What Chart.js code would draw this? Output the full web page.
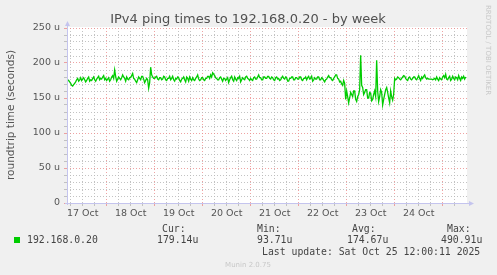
<!DOCTYPE html>
<html>
<head>
<meta charset="utf-8">
<script src="https://cdn.jsdelivr.net/npm/chart.js@4/dist/chart.umd.min.js"></script>
<style>
  html, body { margin: 0; padding: 0; background: #f0f0f0; }
  canvas { display: block; }
</style>
</head>
<body>
<canvas id="chartPing" width="497" height="275"></canvas>
<script>
// x values are hours counted from 17 Oct 00:00, one sample every 30 min
const xMin = 4.17;
const xMax = 204.17;
const firstHour = 4.5;
const stepHours = 0.5;
const dayLabels = ["17 Oct", "18 Oct", "19 Oct", "20 Oct", "21 Oct", "22 Oct", "23 Oct", "24 Oct"];

// ping averages (microseconds), one array per day
const pingOct17 = [176, 175, 173, 171, 168, 167, 169, 171, 173, 176, 178, 174, 176, 179, 175, 177, 179, 176, 173, 175,
  178, 180, 174, 176, 175, 178, 180, 176, 174, 177, 179, 181, 176, 178, 177, 180, 182, 176, 178];
const pingOct18 = [175, 177, 179, 174, 176, 180, 182, 178, 190, 181, 174, 177, 180, 178, 176, 179, 183, 180, 178, 174,
  180, 177, 176, 179, 179, 182, 185, 178, 177, 174, 172, 176, 180, 178, 176, 181, 181, 177, 172, 175,
  178, 176, 164, 172, 194, 183, 180, 178];
const pingOct19 = [178, 180, 181, 177, 176, 179, 179, 176, 177, 181, 180, 176, 175, 178, 178, 181, 176, 178, 181, 176,
  174, 178, 177, 180, 179, 175, 173, 177, 178, 180, 176, 173, 180, 178, 174, 180, 177, 175, 179, 176,
  175, 178, 180, 183, 177, 175, 176, 179];
const pingOct20 = [179, 176, 175, 178, 178, 181, 181, 178, 183, 180, 186, 184, 182, 179, 178, 176, 176, 179, 180, 177,
  174, 178, 178, 175, 177, 179, 172, 176, 179, 181, 176, 174, 180, 177, 175, 179, 178, 181, 173, 176,
  179, 177, 176, 180, 181, 178, 177, 175];
const pingOct21 = [178, 176, 175, 179, 180, 177, 177, 180, 183, 179, 179, 176, 176, 180, 180, 178, 178, 181, 181, 178,
  177, 180, 179, 176, 175, 179, 180, 177, 178, 175, 176, 179, 181, 178, 177, 180, 179, 174, 174, 178,
  178, 180, 180, 176, 176, 179, 179, 177];
const pingOct22 = [177, 180, 180, 176, 175, 178, 178, 180, 176, 179, 181, 177, 178, 181, 174, 176, 179, 177, 177, 180,
  180, 176, 176, 179, 178, 175, 173, 176, 177, 180, 182, 179, 179, 176, 175, 178, 180, 183, 183, 178,
  177, 173, 174, 170, 168, 175, 171, 148];
const pingOct23 = [160, 152, 143, 150, 158, 155, 152, 160, 160, 148, 145, 152, 155, 162, 211, 168, 165, 155, 158, 162,
  162, 150, 150, 158, 157, 146, 148, 155, 160, 152, 204, 160, 145, 152, 162, 158, 140, 148, 155, 162,
  165, 158, 150, 143, 160, 152, 147, 155];
const pingOct24 = [178, 176, 177, 180, 179, 177, 176, 178, 180, 182, 181, 178, 176, 175, 179, 180, 177, 176, 178, 180,
  180, 177, 176, 179, 182, 178, 175, 180, 178, 181, 183, 179, 177, 178, 177, 177, 177, 177, 176, 177,
  178, 176, 180, 177, 175, 179, 177, 176];
const pingOct25 = [180, 182, 179, 184, 177, 176, 179, 181, 175, 177, 181, 178, 176, 180, 179, 176, 182, 178, 175, 180,
  178, 181, 177, 180];

const legendName = "192.168.0.20";
const legendCur = "179.14u";
const legendMin = "93.71u";
const legendAvg = "174.67u";
const legendMax = "490.91u";
const lastUpdate = "Last update: Sat Oct 25 12:00:11 2025";

const pingValues = [].concat(pingOct17, pingOct18, pingOct19, pingOct20,
  pingOct21, pingOct22, pingOct23, pingOct24, pingOct25);
const pingPoints = pingValues.map((v, i) => ({ x: firstHour + i * stepHours, y: v }));

const lineColor = "#00cc00";
const majorGrid = "rgba(235, 140, 140, 0.8)";
const minorGrid = "rgba(185, 185, 185, 0.85)";
const axisColor = "#c4c4ee";
const textColor = "#555555";

const munin = {
  id: "munin",
  beforeDraw(chart) {
    const { ctx, chartArea: a } = chart;
    ctx.save();
    ctx.fillStyle = "#f0f0f0";
    ctx.fillRect(0, 0, chart.width, chart.height);
    ctx.fillStyle = "#ffffff";
    ctx.fillRect(a.left, a.top - 1, a.right - a.left, a.bottom - a.top + 1);
    ctx.restore();
  },
  afterDraw(chart) {
    const { ctx, chartArea: a } = chart;
    ctx.save();
    // axes with arrows
    ctx.strokeStyle = axisColor;
    ctx.fillStyle = axisColor;
    ctx.lineWidth = 1;
    ctx.beginPath();
    ctx.moveTo(a.left + 0.5, a.bottom + 2);
    ctx.lineTo(a.left + 0.5, a.top - 4);
    ctx.moveTo(a.left - 2, a.bottom + 0.5);
    ctx.lineTo(a.right + 4, a.bottom + 0.5);
    ctx.stroke();
    ctx.beginPath();
    ctx.moveTo(a.left - 2, a.top - 2);
    ctx.lineTo(a.left + 3, a.top - 2);
    ctx.lineTo(a.left + 0.5, a.top - 7);
    ctx.closePath();
    ctx.fill();
    ctx.beginPath();
    ctx.moveTo(a.right + 2, a.bottom - 2);
    ctx.lineTo(a.right + 2, a.bottom + 3);
    ctx.lineTo(a.right + 7, a.bottom + 0.5);
    ctx.closePath();
    ctx.fill();

    // title
    ctx.fillStyle = "#505050";
    ctx.font = "13px 'DejaVu Sans'";
    ctx.textAlign = "center";
    ctx.textBaseline = "alphabetic";
    ctx.fillText("IPv4 ping times to 192.168.0.20 - by week", 248, 23);

    // y axis title
    ctx.save();
    ctx.translate(11, 115);
    ctx.rotate(-Math.PI / 2);
    ctx.font = "10.5px 'DejaVu Sans'";
    ctx.fillStyle = textColor;
    ctx.textBaseline = "middle";
    ctx.fillText("roundtrip time (seconds)", 0, 0);
    ctx.restore();

    // right watermark
    ctx.save();
    ctx.translate(488, 5);
    ctx.rotate(Math.PI / 2);
    ctx.font = "7px 'DejaVu Sans'";
    ctx.fillStyle = "#c8c8c8";
    ctx.textAlign = "left";
    ctx.textBaseline = "middle";
    ctx.fillText("RRDTOOL / TOBI OETIKER", 0, 0);
    ctx.restore();

    // legend
    ctx.fillStyle = lineColor;
    ctx.fillRect(14, 237, 6, 6);
    ctx.fillStyle = "#444444";
    ctx.font = "9.8px 'DejaVu Sans Mono'";
    ctx.textAlign = "left";
    ctx.fillText(legendName, 27, 243);
    ctx.fillText("Cur:", 162, 231.5);
    ctx.fillText(legendCur, 157, 243);
    ctx.fillText("Min:", 257, 231.5);
    ctx.fillText(legendMin, 257, 243);
    ctx.fillText("Avg:", 352, 231.5);
    ctx.fillText(legendAvg, 347, 243);
    ctx.fillText("Max:", 447, 231.5);
    ctx.fillText(legendMax, 441, 243);
    ctx.fillText(lastUpdate, 262, 255);

    ctx.fillStyle = "#c8c8c8";
    ctx.font = "7px 'DejaVu Sans'";
    ctx.textAlign = "center";
    ctx.fillText("Munin 2.0.75", 248, 267);
    ctx.restore();
  }
};

const xTicks = [];
for (let h = 6; h < xMax - 1; h += 6) xTicks.push(h);

new Chart(document.getElementById("chartPing"), {
  type: "line",
  data: {
    datasets: [{
      label: legendName,
      data: pingPoints,
      borderColor: lineColor,
      backgroundColor: lineColor,
      borderWidth: 1.3,
      pointRadius: 0,
      tension: 0,
    }],
  },
  options: {
    responsive: false,
    animation: false,
    devicePixelRatio: 1,
    layout: { padding: { top: 28, left: 0, right: 30, bottom: 52 } },
    plugins: { legend: { display: false }, tooltip: { enabled: false } },
    scales: {
      x: {
        type: "linear",
        min: xMin,
        max: xMax,
        afterFit(scale) { scale.height = 20; },
        afterBuildTicks(scale) { scale.ticks = xTicks.map(v => ({ value: v })); },
        grid: {
          color: c => (c.tick && c.tick.value % 24 === 0 ? majorGrid : minorGrid),
          tickLength: 3,
        },
        border: { display: false, dash: [1, 2] },
        ticks: {
          autoSkip: false,
          maxRotation: 0,
          padding: 2,
          color: textColor,
          font: { family: "DejaVu Sans", size: 9.5 },
          callback: v => (v % 24 === 12 ? dayLabels[(v - 12) / 24] : ""),
        },
      },
      y: {
        min: 0,
        max: 250,
        afterFit(scale) { scale.width = 67; },
        grid: {
          color: c => (c.tick && c.tick.value % 50 === 0 ? majorGrid : minorGrid),
          tickLength: 3,
        },
        border: { display: false, dash: [1, 2] },
        ticks: {
          stepSize: 10,
          autoSkip: false,
          padding: 4,
          color: textColor,
          font: { family: "DejaVu Sans", size: 9.5 },
          callback: v => (v % 50 === 0 ? (v === 0 ? "0" : v + " u") : ""),
        },
      },
    },
  },
  plugins: [munin],
});
</script>
</body>
</html>
